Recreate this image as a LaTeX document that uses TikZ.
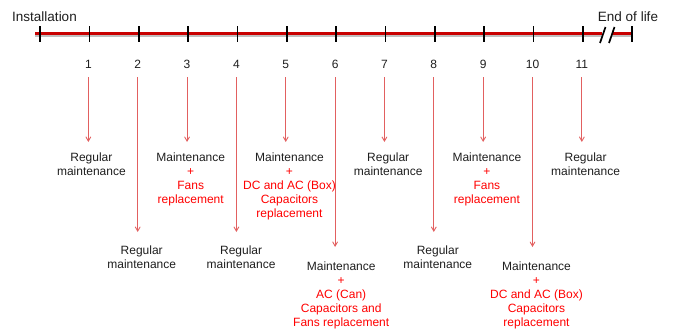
\documentclass[tikz,border=0pt]{standalone}
\usepackage{xcolor}
\usepackage{fontspec}
\setmainfont{Liberation Sans}
\usepackage{tikz}
\usetikzlibrary{arrows}

\definecolor{lifered}{RGB}{200,0,0}
\definecolor{arrowred}{RGB}{226,96,96}
\definecolor{textgray}{RGB}{30,30,30}

\newcommand{\redtxt}[1]{\textcolor{red}{#1}}

\begin{document}
\begin{tikzpicture}[x=1pt, y=-1pt,
        every node/.style={text=textgray, font=\fontsize{12}{14}\selectfont},
        tickmark/.style={line width=1.7pt, black},
        callout/.style={-angle 60, arrowred, line width=0.9pt, shorten <=8.7pt},
        mlabel/.style={align=center, anchor=north, inner sep=0pt}]
        \useasboundingbox (0, 0) rectangle (673, 332);

        % time line
        \draw[line width=1.5pt, black!25] (35, 35.8) -- (602, 35.8);
        \draw[line width=1.5pt, black!25] (612, 35.8) -- (632, 35.8);
        \draw[line width=3pt, lifered] (35, 33.6) -- (602, 33.6);
        \draw[line width=3pt, lifered] (612, 33.6) -- (632, 33.6);
        \foreach \i in {0,...,11}
            \draw[tickmark] ({40+49.35*\i}, 26) -- ({40+49.35*\i}, 42);
        \draw[tickmark] (632, 26) -- (632, 42);
        \draw[tickmark] (600, 43) -- (605.5, 27);
        \draw[tickmark] (609, 43) -- (614.5, 27);

        \node (inst) at (44.5, 17) {\fontsize{13.5}{16}\selectfont Installation};
        \node (eol) at (628, 17) {\fontsize{13.5}{16}\selectfont End of life};

        \foreach \i in {1,...,11}
            \node[inner sep=0pt] (n\i) at ({39+49.35*\i}, 64) {\i};

        % odd years
        \node[mlabel] (m1) at (91.4, 152.6) {Regular\\maintenance};
        \node[mlabel] (m3) at (190.7, 152.6) {Maintenance\\\redtxt{+}\\\redtxt{Fans}\\\redtxt{replacement}};
        \node[mlabel] (m5) at (289.5, 152.6) {Maintenance\\\redtxt{+}\\\redtxt{DC and AC (Box)}\\\redtxt{Capacitors}\\\redtxt{replacement}};
        \node[mlabel] (m7) at (388.2, 152.6) {Regular\\maintenance};
        \node[mlabel] (m9) at (486.9, 152.6) {Maintenance\\\redtxt{+}\\\redtxt{Fans}\\\redtxt{replacement}};
        \node[mlabel] (m11) at (585.6, 152.6) {Regular\\maintenance};

        % even years
        \node[mlabel] (m2) at (141.7, 245.6) {Regular\\maintenance};
        \node[mlabel] (m4) at (241.1, 245.6) {Regular\\maintenance};
        \node[mlabel] (m6) at (341.2, 261.6) {Maintenance\\\redtxt{+}\\\redtxt{AC (Can)}\\\redtxt{Capacitors and}\\\redtxt{Fans replacement}};
        \node[mlabel] (m8) at (437.8, 245.6) {Regular\\maintenance};
        \node[mlabel] (m10) at (536.5, 261.6) {Maintenance\\\redtxt{+}\\\redtxt{DC and AC (Box)}\\\redtxt{Capacitors}\\\redtxt{replacement}};

        \foreach \i in {1,3,5,7,9,11}
            \draw[callout, shorten >=10.6pt] (n\i) -- (n\i |- m\i.north);
        \foreach \i in {2,4,8}
            \draw[callout, shorten >=13.6pt] (n\i) -- (n\i |- m\i.north);
        \foreach \i in {6,10}
            \draw[callout, shorten >=14.6pt] (n\i) -- (n\i |- m\i.north);
\end{tikzpicture}
\end{document}
